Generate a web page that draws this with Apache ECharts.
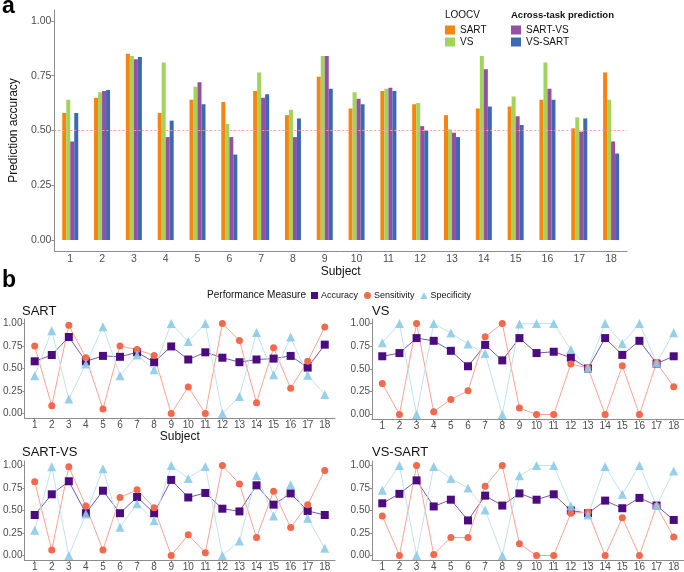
<!DOCTYPE html>
<html lang="en">
<head>
<meta charset="UTF-8">
<title>Prediction accuracy by subject</title>
<script src="https://cdn.jsdelivr.net/npm/echarts@6/dist/echarts.min.js"></script>
<style>
  html, body { margin: 0; padding: 0; background: #fff; }
  #chart { width: 684px; height: 572px; }
</style>
</head>
<body>
<div id="chart"></div>
<script>
// subjects on the x axis
const subjects = [1, 2, 3, 4, 5, 6, 7, 8, 9, 10, 11, 12, 13, 14, 15, 16, 17, 18];
const accTicks = [0, 0.25, 0.5, 0.75, 1];

// panel a: prediction accuracy
const sartAcc   = [0.58, 0.65, 0.85, 0.58, 0.64, 0.63, 0.68, 0.57, 0.745, 0.60, 0.68, 0.62, 0.57, 0.60, 0.61, 0.64, 0.51, 0.765];
const vsAcc     = [0.64, 0.675, 0.84, 0.81, 0.70, 0.53, 0.765, 0.595, 0.84, 0.675, 0.69, 0.625, 0.505, 0.84, 0.655, 0.81, 0.56, 0.64];
const sartVsAcc = [0.45, 0.68, 0.825, 0.47, 0.72, 0.47, 0.65, 0.47, 0.84, 0.645, 0.695, 0.52, 0.49, 0.78, 0.565, 0.69, 0.495, 0.45];
const vsSartAcc = [0.58, 0.685, 0.835, 0.545, 0.62, 0.39, 0.665, 0.555, 0.69, 0.62, 0.68, 0.50, 0.47, 0.61, 0.525, 0.64, 0.555, 0.395];

// panel b: sensitivity / specificity
const sartSens   = [0.75, 0.085, 0.98, 0.62, 0.05, 0.75, 0.71, 0.645, 0.0, 0.295, 0.0, 1.0, 0.81, 0.12, 0.73, 0.28, 0.58, 0.96];
const sartSpec   = [0.42, 0.92, 0.16, 0.55, 0.965, 0.42, 0.65, 0.485, 1.0, 0.80, 1.0, 0.0, 0.19, 0.90, 0.43, 0.85, 0.425, 0.21];
const vsSens     = [0.34, 0.0, 1.0, 0.03, 0.165, 0.26, 0.855, 1.0, 0.07, 0.0, 0.0, 0.555, 0.51, 0.0, 0.535, 0.0, 0.57, 0.305];
const vsSpec     = [0.79, 1.0, 0.0, 1.0, 0.895, 0.775, 0.67, 0.0, 0.995, 1.0, 1.0, 0.715, 0.51, 1.0, 0.78, 1.0, 0.57, 0.90];
const sartVsSens = [0.82, 0.06, 0.985, 0.55, 0.06, 0.645, 0.73, 0.53, 0.0, 0.23, 0.03, 1.0, 0.795, 0.20, 0.715, 0.31, 0.565, 0.945];
const sartVsSpec = [0.28, 0.985, 0.0, 0.46, 0.965, 0.315, 0.575, 0.385, 1.0, 0.855, 0.99, 0.0, 0.16, 0.89, 0.44, 0.785, 0.415, 0.08];
const vsSartSens = [0.44, 0.0, 1.0, 0.01, 0.20, 0.20, 0.77, 1.0, 0.13, 0.0, 0.0, 0.47, 0.48, 0.0, 0.42, 0.0, 0.55, 0.205];
const vsSartSpec = [0.725, 1.0, 0.0, 0.99, 0.855, 0.75, 0.505, 0.0, 0.885, 1.0, 1.0, 0.55, 0.45, 0.99, 0.68, 1.0, 0.555, 0.94];

const panels = [
  { title: 'SART',    acc: sartAcc,   sens: sartSens,   spec: sartSpec },
  { title: 'VS',      acc: vsAcc,     sens: vsSens,     spec: vsSpec },
  { title: 'SART-VS', acc: sartVsAcc, sens: sartVsSens, spec: sartVsSpec },
  { title: 'VS-SART', acc: vsSartAcc, sens: vsSartSens, spec: vsSartSpec }
];

const axisGrey = '#8c8c8c';
const labelGrey = '#4d4d4d';
const fontFam = '"Liberation Sans", Arial, sans-serif';

const chart = echarts.init(document.getElementById('chart'));

const toPts = arr => arr.map((v, i) => [subjects[i], v]);
const fmt2 = v => v.toFixed(2);

// grids: top bars, then the four small panels
const grids = [
  { left: 53, top: 10, width: 574, height: 241 },
  { left: 22, top: 319, width: 313, height: 99 },
  { left: 372, top: 319, width: 312, height: 100 },
  { left: 22, top: 461, width: 313, height: 100 },
  { left: 372, top: 461, width: 312, height: 100 }
];

const xAxes = [{
  type: 'category', gridIndex: 0, data: subjects.map(String),
  axisLine: { onZero: false, lineStyle: { color: axisGrey } },
  axisTick: { alignWithLabel: true, length: 3, lineStyle: { color: axisGrey } },
  axisLabel: { fontSize: 10.5, color: labelGrey, margin: 3 },
  name: 'Subject', nameLocation: 'middle', nameGap: 12,
  nameTextStyle: { fontSize: 12, color: '#111' }
}];
const yAxes = [{
  type: 'value', gridIndex: 0, min: -0.05, max: 1.05,
  splitLine: { show: false },
  axisLine: { show: true, onZero: false, lineStyle: { color: axisGrey } },
  axisTick: { show: true, length: 3, customValues: accTicks, lineStyle: { color: axisGrey } },
  axisLabel: { fontSize: 10.5, color: labelGrey, margin: 3, customValues: accTicks, formatter: fmt2 },
  name: 'Prediction accuracy', nameLocation: 'middle', nameGap: 29,
  nameTextStyle: { fontSize: 12, color: '#111' }
}];

panels.forEach((p, i) => {
  const g = i + 1;
  xAxes.push({
    type: 'value', gridIndex: g, min: 0.4, max: 18.6,
    splitLine: { show: false },
    axisLine: { onZero: false, lineStyle: { color: axisGrey } },
    axisTick: { length: 3, customValues: subjects, lineStyle: { color: axisGrey } },
    axisLabel: { fontSize: 10, color: labelGrey, margin: 2, customValues: subjects },
    name: i === 0 ? 'Subject' : '', nameLocation: 'middle', nameGap: 12,
    nameTextStyle: { fontSize: 12, color: '#111' }
  });
  yAxes.push({
    type: 'value', gridIndex: g, min: -0.05, max: 1.05,
    splitLine: { show: false },
    axisLine: { show: true, onZero: false, lineStyle: { color: axisGrey } },
    axisTick: { show: true, length: 2, customValues: accTicks, lineStyle: { color: axisGrey } },
    axisLabel: { fontSize: 10, color: labelGrey, margin: 2, customValues: accTicks, formatter: fmt2 }
  });
});

const barColors = { 'SART': '#f5850f', 'VS': '#a2d35a', 'SART-VS': '#954fa3', 'VS-SART': '#3d68b3' };
const barData = { 'SART': sartAcc, 'VS': vsAcc, 'SART-VS': sartVsAcc, 'VS-SART': vsSartAcc };

const series = Object.keys(barData).map((name, k) => {
  const s = {
    type: 'bar', name: name, xAxisIndex: 0, yAxisIndex: 0,
    data: barData[name], barWidth: 4, barGap: '0%',
    itemStyle: { color: barColors[name] }
  };
  if (k === 0) {
    s.markLine = {
      silent: true, symbol: ['none', 'none'], label: { show: false },
      lineStyle: { color: '#f3a0a0', type: [2, 2], width: 1 },
      data: [{ yAxis: 0.5 }]
    };
  }
  return s;
});

panels.forEach((p, i) => {
  const g = i + 1;
  series.push(
    { type: 'line', name: 'Accuracy', xAxisIndex: g, yAxisIndex: g, data: toPts(p.acc),
      symbol: 'rect', symbolSize: 8, itemStyle: { color: '#4b0c80' },
      lineStyle: { color: '#7c58a8', width: 1 } },
    { type: 'line', name: 'Sensitivity', xAxisIndex: g, yAxisIndex: g, data: toPts(p.sens),
      symbol: 'circle', symbolSize: 7, itemStyle: { color: '#f2694d' },
      lineStyle: { color: '#f6a594', width: 1 } },
    { type: 'line', name: 'Specificity', xAxisIndex: g, yAxisIndex: g, data: toPts(p.spec),
      symbol: 'triangle', symbolSize: 9, itemStyle: { color: '#8ccbe6', opacity: 0.9 },
      lineStyle: { color: '#bfe3f1', width: 1 } }
  );
});

const titles = [
  { text: 'a', left: 2, top: -5, textStyle: { fontSize: 23, fontWeight: 'bold', color: '#000' } },
  { text: 'b', left: 2, top: 269, textStyle: { fontSize: 23, fontWeight: 'bold', color: '#000' } },
  { text: 'SART', left: 22, top: 305 },
  { text: 'VS', left: 372, top: 305 },
  { text: 'SART-VS', left: 22, top: 446 },
  { text: 'VS-SART', left: 372, top: 446 }
].map(t => Object.assign({ padding: 0 }, t, {
  textStyle: Object.assign({ fontSize: 13, fontWeight: 'normal', color: '#111' }, t.textStyle || {})
}));

const option = {
  animation: false,
  textStyle: { fontFamily: fontFam },
  title: titles,
  grid: grids,
  xAxis: xAxes,
  yAxis: yAxes,
  legend: [
    { data: ['SART', 'VS'], orient: 'vertical', left: 445, top: 25, padding: 0,
      icon: 'rect', itemWidth: 10, itemHeight: 9, itemGap: 2,
      textStyle: { fontSize: 10, color: '#111' }, selectedMode: false },
    { data: ['SART-VS', 'VS-SART'], orient: 'vertical', left: 511, top: 25, padding: 0,
      icon: 'rect', itemWidth: 10, itemHeight: 9, itemGap: 2,
      textStyle: { fontSize: 10, color: '#111' }, selectedMode: false },
    { data: [{ name: 'Accuracy', icon: 'rect' }, { name: 'Sensitivity', icon: 'circle' }, { name: 'Specificity', icon: 'triangle' }],
      left: 311, top: 291, padding: 0, itemWidth: 7, itemHeight: 7, itemGap: 6,
      textStyle: { fontSize: 9, color: '#111', padding: [0, 0, 0, -2] }, selectedMode: false }
  ],
  graphic: [
    { type: 'text', x: 445, y: 15, style: { text: 'LOOCV', font: '10px ' + fontFam, fill: '#111', verticalAlign: 'middle' } },
    { type: 'text', x: 511, y: 15, style: { text: 'Across-task prediction', font: 'bold 9.5px ' + fontFam, fill: '#111', verticalAlign: 'middle' } },
    { type: 'text', x: 306, y: 295, style: { text: 'Performance Measure', font: '10px ' + fontFam, fill: '#111', align: 'right', verticalAlign: 'middle' } }
  ],
  series: series
};

chart.setOption(option);
window.addEventListener('resize', () => chart.resize());
</script>
</body>
</html>
